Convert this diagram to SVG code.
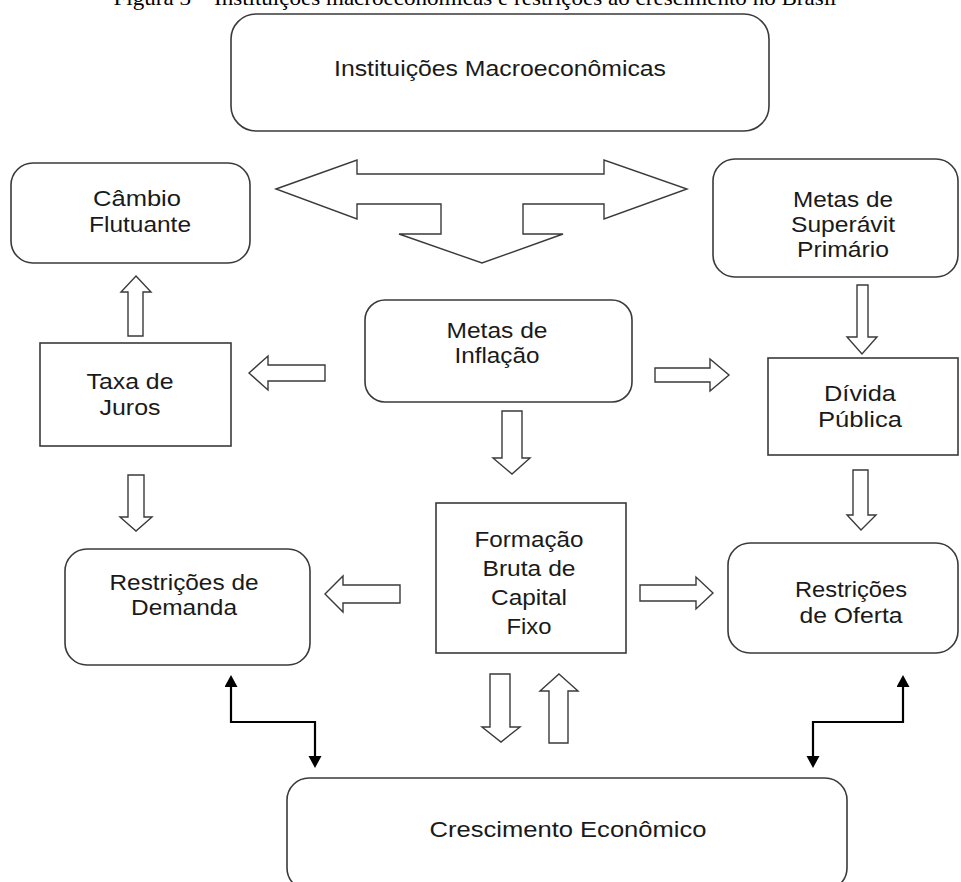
<svg xmlns="http://www.w3.org/2000/svg" width="961" height="882" viewBox="0 0 961 882">
<style>
.box{fill:#fff;stroke:#3a3a3a;stroke-width:1.6}
.t{font-family:"Liberation Sans",Arial,sans-serif;font-size:22px;fill:#1a1a1a;text-anchor:middle}
.ha{fill:#fff;stroke:#3a3a3a;stroke-width:1.4;stroke-linejoin:miter}
.con{fill:none;stroke:#000;stroke-width:2.2}
.title{font-family:"Liberation Serif","Times New Roman",serif;font-size:21px;fill:#000;text-anchor:middle}
</style>
<defs>
<marker id="ah" markerUnits="userSpaceOnUse" markerWidth="14" markerHeight="14" refX="0" refY="6.5" orient="auto-start-reverse">
<path d="M0,0 L12,6.5 L0,13 z" fill="#000"/>
</marker>
</defs>
<rect width="961" height="882" fill="#fff"/>
<text class="title" x="475" y="5" textLength="723" lengthAdjust="spacingAndGlyphs">Figura 3 – Instituições macroeconômicas e restrições ao crescimento no Brasil</text>

<g id="instituicoes">
<rect class="box" x="231" y="14" width="538" height="117" rx="25"/>
<text class="t" x="500" y="76" textLength="332" lengthAdjust="spacingAndGlyphs">Instituições Macroeconômicas</text>
</g>
<g id="cambio">
<rect class="box" x="11" y="163" width="239" height="100" rx="22"/>
<text class="t" x="137" y="206" textLength="88" lengthAdjust="spacingAndGlyphs">Câmbio</text>
<text class="t" x="140" y="232" textLength="102" lengthAdjust="spacingAndGlyphs">Flutuante</text>
</g>
<g id="superavit">
<rect class="box" x="713" y="159" width="245" height="118" rx="22"/>
<text class="t" x="843" y="207" textLength="100" lengthAdjust="spacingAndGlyphs">Metas de</text>
<text class="t" x="843" y="232" textLength="104" lengthAdjust="spacingAndGlyphs">Superávit</text>
<text class="t" x="843" y="257" textLength="92" lengthAdjust="spacingAndGlyphs">Primário</text>
</g>
<g id="taxa">
<rect class="box" x="40" y="343" width="191" height="103"/>
<text class="t" x="130" y="389" textLength="87" lengthAdjust="spacingAndGlyphs">Taxa de</text>
<text class="t" x="130" y="415" textLength="61" lengthAdjust="spacingAndGlyphs">Juros</text>
</g>
<g id="inflacao">
<rect class="box" x="365" y="300" width="267" height="102" rx="20"/>
<text class="t" x="497" y="338" textLength="101" lengthAdjust="spacingAndGlyphs">Metas de</text>
<text class="t" x="497" y="363" textLength="85" lengthAdjust="spacingAndGlyphs">Inflação</text>
</g>
<g id="divida">
<rect class="box" x="768" y="358" width="190" height="97"/>
<text class="t" x="860" y="401" textLength="72" lengthAdjust="spacingAndGlyphs">Dívida</text>
<text class="t" x="860" y="427" textLength="84" lengthAdjust="spacingAndGlyphs">Pública</text>
</g>
<g id="formacao">
<rect class="box" x="436" y="503" width="190" height="150"/>
<text class="t" x="529" y="547" textLength="109" lengthAdjust="spacingAndGlyphs">Formação</text>
<text class="t" x="529" y="576" textLength="93" lengthAdjust="spacingAndGlyphs">Bruta de</text>
<text class="t" x="529" y="605" textLength="76" lengthAdjust="spacingAndGlyphs">Capital</text>
<text class="t" x="529" y="634" textLength="45" lengthAdjust="spacingAndGlyphs">Fixo</text>
</g>
<g id="demanda">
<rect class="box" x="65" y="549" width="245" height="116" rx="22"/>
<text class="t" x="184" y="590" textLength="149" lengthAdjust="spacingAndGlyphs">Restrições de</text>
<text class="t" x="184" y="615" textLength="106" lengthAdjust="spacingAndGlyphs">Demanda</text>
</g>
<g id="oferta">
<rect class="box" x="728" y="543" width="230" height="110" rx="22"/>
<text class="t" x="851" y="597" textLength="112" lengthAdjust="spacingAndGlyphs">Restrições</text>
<text class="t" x="851" y="623" textLength="103" lengthAdjust="spacingAndGlyphs">de Oferta</text>
</g>
<g id="crescimento">
<rect class="box" x="287" y="778" width="560" height="112" rx="22"/>
<text class="t" x="568" y="837" textLength="277" lengthAdjust="spacingAndGlyphs">Crescimento Econômico</text>
</g>

<g id="connectors">
<polygon class="ha" points="276,189 357,160 357,174 604,174 604,160 687,189 604,219 604,204 523,204 523,234 563,234 482,263 399,234 441,234 441,204 357,204 357,219"/>
<polygon class="ha" points="136,276 151,292 143,292 143,336 128,336 128,292 121,292"/>
<polygon class="ha" points="249,373 268,356 268,365 325,365 325,381 268,381 268,390"/>
<polygon class="ha" points="655,368 710,368 710,359 729,375 710,391 710,382 655,382"/>
<polygon class="ha" points="857,285 868,285 868,337 877,337 862,354 847,337 857,337"/>
<polygon class="ha" points="502,411 522,411 522,458 530,458 512,474 493,458 502,458"/>
<polygon class="ha" points="853,470 868,470 868,515 876,515 861,530 847,515 853,515"/>
<polygon class="ha" points="128,475 144,475 144,517 152,517 136,531 120,517 128,517"/>
<polygon class="ha" points="325,594 343,576 343,585 400,585 400,603 343,603 343,612"/>
<polygon class="ha" points="640,585 696,585 696,577 713,593 696,609 696,601 640,601"/>
<polygon class="ha" points="490,674 510,674 510,727 520,727 501,742 482,727 490,727"/>
<polygon class="ha" points="559,674 578,691 568,691 568,743 549,743 549,691 540,691"/>
<path class="con" d="M231,687 V722 H315 V756" marker-start="url(#ah)" marker-end="url(#ah)"/>
<path class="con" d="M903,687 V722 H813 V756" marker-start="url(#ah)" marker-end="url(#ah)"/>
</g>
</svg>
